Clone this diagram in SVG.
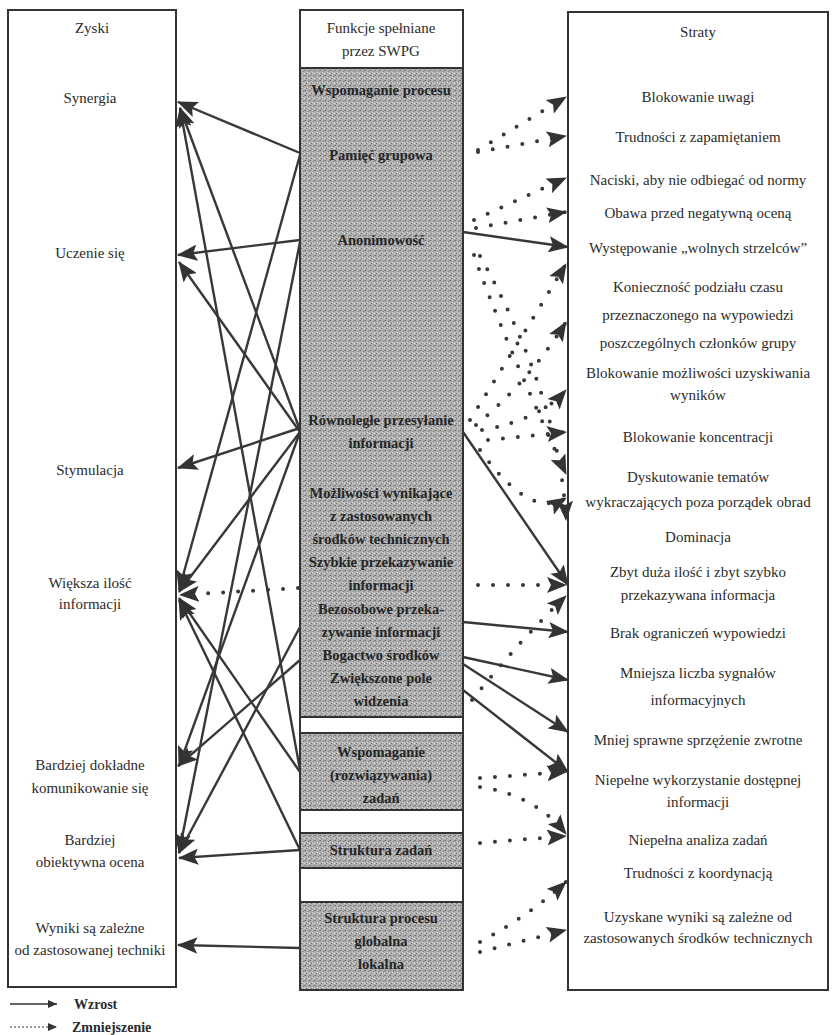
<svg xmlns="http://www.w3.org/2000/svg" width="833" height="1035" viewBox="0 0 833 1035">
<style>
text{font-size:15px;fill:#2b2b2b;text-anchor:middle}
.g{fill:#262626;font-weight:bold;font-size:14.5px}
.lg{font-weight:bold;font-size:14px;text-anchor:start}
.box{fill:#fff;stroke:#333;stroke-width:2}
.gray{fill:url(#st);stroke:#333;stroke-width:2}
.s{stroke:#383838;stroke-width:2.4;fill:none}
.d{stroke:#383838;stroke-width:4;stroke-dasharray:0 15;stroke-linecap:round;fill:none}
</style>
<defs>
<pattern id="st" width="5" height="5" patternUnits="userSpaceOnUse">
<rect width="5" height="5" fill="#b0b0b0"/>
<rect x="0" y="0" width="1" height="1" fill="#6a6a6a"/>
<rect x="3" y="1" width="1" height="1" fill="#7e7e7e"/>
<rect x="1" y="3" width="1" height="1" fill="#747474"/>
<rect x="4" y="3" width="1" height="1" fill="#dedede"/>
<rect x="2" y="2" width="1" height="1" fill="#d6d6d6"/>
<rect x="4" y="0" width="1" height="1" fill="#8a8a8a"/>
</pattern>
<marker id="ah" markerUnits="strokeWidth" viewBox="0 0 20 16" markerWidth="8.5" markerHeight="6.8" refX="19" refY="8" orient="auto">
<path d="M0,0 L20,8 L0,16 L4,8 z" fill="#333"/>
</marker>
<marker id="ahd" markerUnits="strokeWidth" viewBox="0 0 20 16" markerWidth="5" markerHeight="4" refX="19" refY="8" orient="auto">
<path d="M0,0 L20,8 L0,16 L4,8 z" fill="#333"/>
</marker>
<marker id="ahs" markerUnits="userSpaceOnUse" viewBox="0 0 10 8" markerWidth="10" markerHeight="8" refX="9" refY="4" orient="auto">
<path d="M0,0 L9,4 L0,8 z" fill="#333"/>
</marker>
</defs>

<g id="zyski" font-family="Liberation Serif, Times New Roman, serif">
<rect class="box" x="8" y="10" width="168" height="977"/>
<text x="92" y="33">Zyski</text>
<text x="90" y="103">Synergia</text>
<text x="90" y="258">Uczenie się</text>
<text x="90" y="475">Stymulacja</text>
<text x="90" y="588">Większa ilość</text>
<text x="90" y="609">informacji</text>
<text x="90" y="770">Bardziej dokładne</text>
<text x="90" y="793">komunikowanie się</text>
<text x="90" y="845">Bardziej</text>
<text x="90" y="867">obiektywna ocena</text>
<text x="90" y="933">Wyniki są zależne</text>
<text x="90" y="955">od zastosowanej techniki</text>
</g>

<g id="funkcje" font-family="Liberation Serif, Times New Roman, serif">
<rect class="box" x="300" y="10" width="163" height="980"/>
<text x="381" y="33">Funkcje spełniane</text>
<text x="381" y="56">przez SWPG</text>
<rect class="gray" x="300" y="68" width="163" height="649"/>
<text class="g" x="381" y="95">Wspomaganie procesu</text>
<text class="g" x="381" y="160">Pamięć grupowa</text>
<text class="g" x="381" y="245">Anonimowość</text>
<text class="g" x="381" y="425">Równoległe przesyłanie</text>
<text class="g" x="381" y="448">informacji</text>
<text class="g" x="381" y="498">Możliwości wynikające</text>
<text class="g" x="381" y="521">z zastosowanych</text>
<text class="g" x="381" y="544">środków technicznych</text>
<text class="g" x="381" y="567">Szybkie przekazywanie</text>
<text class="g" x="381" y="590">informacji</text>
<text class="g" x="381" y="614">Bezosobowe przeka-</text>
<text class="g" x="381" y="637">zywanie informacji</text>
<text class="g" x="381" y="660">Bogactwo środków</text>
<text class="g" x="381" y="683">Zwiększone pole</text>
<text class="g" x="381" y="706">widzenia</text>
<rect class="gray" x="300" y="733" width="163" height="77"/>
<text class="g" x="381" y="757">Wspomaganie</text>
<text class="g" x="381" y="780">(rozwiązywania)</text>
<text class="g" x="381" y="803">zadań</text>
<rect class="gray" x="300" y="833" width="163" height="35"/>
<text class="g" x="381" y="855">Struktura zadań</text>
<rect class="gray" x="300" y="902" width="163" height="88"/>
<text class="g" x="381" y="923">Struktura procesu</text>
<text class="g" x="381" y="946">globalna</text>
<text class="g" x="381" y="969">lokalna</text>
</g>

<g id="straty" font-family="Liberation Serif, Times New Roman, serif">
<rect class="box" x="568" y="12" width="260" height="978"/>
<text x="698" y="37">Straty</text>
<text x="698" y="102">Blokowanie uwagi</text>
<text x="698" y="142">Trudności z zapamiętaniem</text>
<text x="698" y="185">Naciski, aby nie odbiegać od normy</text>
<text x="698" y="218">Obawa przed negatywną oceną</text>
<text x="698" y="253">Występowanie „wolnych strzelców”</text>
<text x="698" y="292">Konieczność podziału czasu</text>
<text x="698" y="320">przeznaczonego na wypowiedzi</text>
<text x="698" y="348">poszczególnych członków grupy</text>
<text x="698" y="378">Blokowanie możliwości uzyskiwania</text>
<text x="698" y="400">wyników</text>
<text x="698" y="442">Blokowanie koncentracji</text>
<text x="698" y="482">Dyskutowanie tematów</text>
<text x="698" y="507">wykraczających poza porządek obrad</text>
<text x="698" y="542">Dominacja</text>
<text x="698" y="577">Zbyt duża ilość i zbyt szybko</text>
<text x="698" y="600">przekazywana informacja</text>
<text x="698" y="638">Brak ograniczeń wypowiedzi</text>
<text x="698" y="678">Mniejsza liczba sygnałów</text>
<text x="698" y="705">informacyjnych</text>
<text x="698" y="745">Mniej sprawne sprzężenie zwrotne</text>
<text x="698" y="785">Niepełne wykorzystanie dostępnej</text>
<text x="698" y="807">informacji</text>
<text x="698" y="845">Niepełna analiza zadań</text>
<text x="698" y="878">Trudności z koordynacją</text>
<text x="698" y="922">Uzyskane wyniki są zależne od</text>
<text x="698" y="943">zastosowanych środków technicznych</text>
</g>

<g id="connectors">
<path class="s" marker-end="url(#ah)" d="M300,153 L178,102"/>
<path class="s" marker-end="url(#ah)" d="M300,240 L178,255"/>
<path class="s" marker-end="url(#ah)" d="M300,432 L179,262"/>
<path class="s" marker-end="url(#ah)" d="M300,430 L180,108"/>
<path class="s" marker-end="url(#ah)" d="M300,770 L180,108"/>
<path class="s" marker-end="url(#ah)" d="M300,155 L179,590"/>
<path class="s" marker-end="url(#ah)" d="M300,428 L178,468"/>
<path class="s" marker-end="url(#ah)" d="M300,432 L179,592"/>
<path class="d" marker-end="url(#ahd)" d="M298,588 L180,595"/>
<path class="s" marker-end="url(#ah)" d="M300,772 L179,598"/>
<path class="s" marker-end="url(#ah)" d="M300,850 L179,600"/>
<path class="s" marker-end="url(#ah)" d="M300,660 L178,766"/>
<path class="s" marker-end="url(#ah)" d="M300,432 L179,766"/>
<path class="s" marker-end="url(#ah)" d="M300,242 L179,853"/>
<path class="s" marker-end="url(#ah)" d="M300,627 L179,853"/>
<path class="s" marker-end="url(#ah)" d="M300,850 L179,858"/>
<path class="s" marker-end="url(#ah)" d="M300,948 L178,945"/>
<path class="s" marker-end="url(#ah)" d="M463,232 L568,247"/>
<path class="s" marker-end="url(#ah)" d="M463,432 L568,585"/>
<path class="s" marker-end="url(#ah)" d="M463,622 L568,632"/>
<path class="s" marker-end="url(#ah)" d="M463,657 L568,680"/>
<path class="s" marker-end="url(#ah)" d="M463,664 L568,732"/>
<path class="s" marker-end="url(#ah)" d="M463,690 L568,772"/>
<path class="d" marker-end="url(#ahd)" d="M478,150 L566,97"/>
<path class="d" marker-end="url(#ahd)" d="M478,152 L566,136"/>
<path class="d" marker-end="url(#ahd)" d="M474,220 L566,178"/>
<path class="d" marker-end="url(#ahd)" d="M476,228 L566,212"/>
<path class="d" marker-end="url(#ahd)" d="M474,255 Q500,330 566,474"/>
<path class="d" marker-end="url(#ahd)" d="M480,256 Q560,400 566,520"/>
<path class="d" marker-end="url(#ahd)" d="M470,420 Q520,340 566,264"/>
<path class="d" marker-end="url(#ahd)" d="M476,425 Q530,380 566,322"/>
<path class="d" marker-end="url(#ahd)" d="M482,430 Q540,420 566,390"/>
<path class="d" marker-end="url(#ahd)" d="M488,440 L566,432"/>
<path class="d" marker-end="url(#ahd)" d="M480,450 Q530,520 566,498"/>
<path class="d" marker-end="url(#ahd)" d="M478,585 L566,585"/>
<path class="d" marker-end="url(#ahd)" d="M472,700 Q520,640 566,596"/>
<path class="d" marker-end="url(#ahd)" d="M480,778 L566,772"/>
<path class="d" marker-end="url(#ahd)" d="M480,787 Q535,795 566,834"/>
<path class="d" marker-end="url(#ahd)" d="M480,843 L566,836"/>
<path class="d" marker-end="url(#ahd)" d="M480,942 Q530,915 566,882"/>
<path class="d" marker-end="url(#ahd)" d="M480,952 L566,930"/>
</g>

<g id="legend" font-family="Liberation Serif, Times New Roman, serif">
<line x1="10" y1="1004" x2="57" y2="1004" stroke="#333" stroke-width="1.6" marker-end="url(#ahs)"/>
<text class="lg" x="74" y="1009">Wzrost</text>
<line x1="10" y1="1027" x2="57" y2="1027" stroke="#333" stroke-width="1" stroke-dasharray="2 2" marker-end="url(#ahs)"/>
<text class="lg" x="72" y="1032">Zmniejszenie</text>
</g>
</svg>
